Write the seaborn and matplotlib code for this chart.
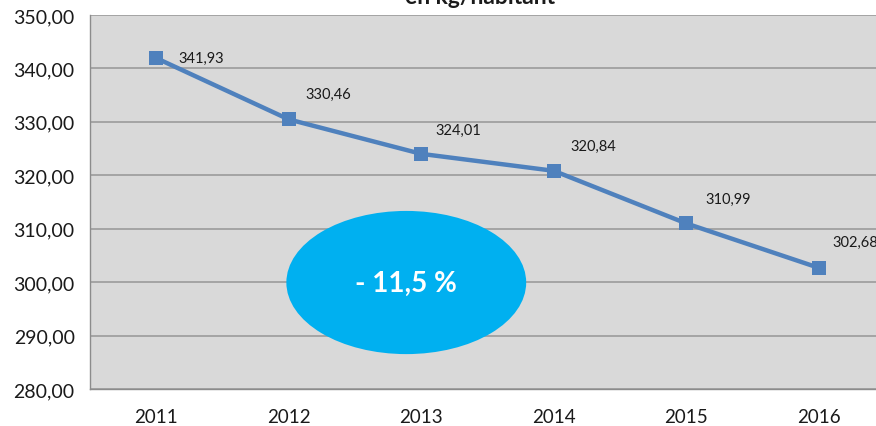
import matplotlib
matplotlib.use("Agg")
import matplotlib.pyplot as plt
from matplotlib.patches import Ellipse
from matplotlib.ticker import FuncFormatter, FixedLocator
import seaborn as sns
import pandas as pd

years = ["2011", "2012", "2013", "2014", "2015", "2016"]
values = [341.93, 330.46, 324.01, 320.84, 310.99, 302.68]
value_labels = ["341,93", "330,46", "324,01", "320,84", "310,99", "302,68"]
title_text = "en kg/habitant"
badge_text = "- 11,5 %"
y_ticks = [280, 290, 300, 310, 320, 330, 340, 350]

sns.set_theme(style="white")
plt.rcParams["font.family"] = ["Lato", "DejaVu Sans"]

df = pd.DataFrame({"year": years, "value": values})

fig = plt.figure(figsize=(8.76, 4.27), dpi=100)
ax = fig.add_axes([90 / 876, 1 - 390 / 427, 795 / 876, 374 / 427])
ax.set_facecolor("#D9D9D9")

sns.lineplot(data=df, x="year", y="value", ax=ax, color="#4F81BD",
             linewidth=3.2, marker="s", markersize=10.5, markeredgewidth=0,
             zorder=4)

ax.set_xlim(-0.5, 5.5)
ax.set_ylim(280, 350)
ax.yaxis.set_major_locator(FixedLocator(y_ticks))
ax.yaxis.set_major_formatter(FuncFormatter(lambda v, p: f"{v:.2f}".replace(".", ",")))
ax.set_axisbelow(True)
ax.grid(axis="y", color="#A0A0A0", linewidth=1.3)
ax.grid(axis="x", visible=False)

ax.set_xticks(range(len(years)))
ax.set_xticklabels(years)
ax.set_xticks([i - 0.5 for i in range(len(years) + 1)], minor=True)
ax.tick_params(axis="x", which="major", length=0, pad=14, labelsize=13.5, labelcolor="#1a1a1a")
ax.tick_params(axis="x", which="minor", length=6, width=1.0, color="#8C8C8C", direction="out")
ax.tick_params(axis="y", which="major", length=5, width=1.0, color="#8C8C8C", direction="out",
               pad=6, labelsize=14, labelcolor="#1a1a1a")
ax.set_xlabel("")
ax.set_ylabel("")

for s in ["top", "right"]:
    ax.spines[s].set_visible(False)
for s in ["left", "bottom"]:
    ax.spines[s].set_color("#8C8C8C")
    ax.spines[s].set_linewidth(1.0)

offsets = [(22, 0), (17, 26), (14, 24), (17, 25), (19, 25), (14, 26)]
for i, (v, lab) in enumerate(zip(values, value_labels)):
    ax.annotate(lab, xy=(i, v), xytext=offsets[i], textcoords="offset pixels",
                ha="left", va="center", fontsize=10.5, color="#1a1a1a", zorder=5)

ell = Ellipse((1.887, 299.93), width=1.81, height=26.8, facecolor="#00B0F0",
              edgecolor="none", zorder=3)
ax.add_patch(ell)
ax.text(1.887, 299.93, badge_text, ha="center", va="center", color="white",
        fontsize=20, fontweight="bold", zorder=5)

fig.text(480 / 876, 1 - 4 / 427, title_text, ha="center", va="baseline",
         fontsize=16.5, fontweight="bold", color="#1a1a1a")

fig.savefig("out.png", dpi=100)
